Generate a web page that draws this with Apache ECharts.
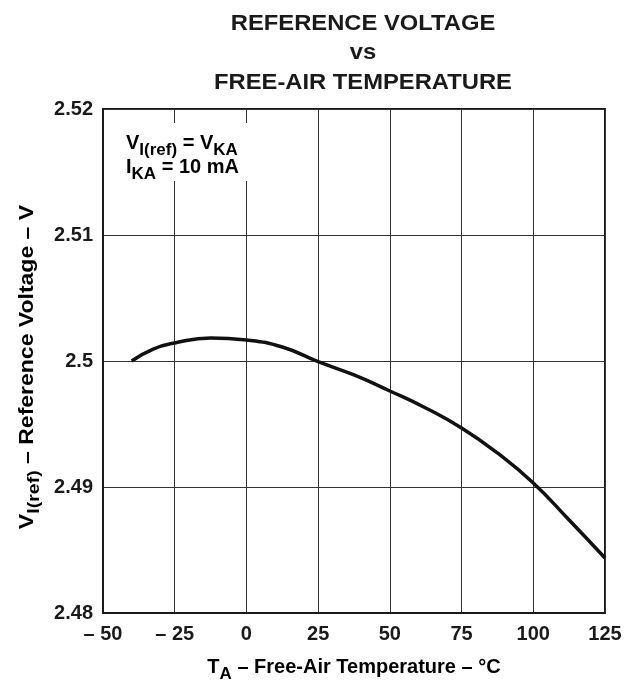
<!DOCTYPE html>
<html><head><meta charset="utf-8">
<script src="https://cdn.jsdelivr.net/npm/echarts@6/dist/echarts.min.js"></script>
<style>html,body{margin:0;padding:0;background:#fff}#c{width:629px;height:680px}</style>
</head><body><div id="c"></div>
<script>
const temperature = [-40, -32.5, -25, -12.5, 0, 12.5, 25, 37.5, 50, 62.5, 75, 87.5, 100, 112.5, 125];
const vref = [2.5000, 2.50095, 2.50143, 2.50183, 2.50167, 2.50111, 2.49995, 2.49889, 2.49762, 2.49627, 2.49468, 2.4927, 2.49032, 2.48738, 2.48437];
const xTicks = [-50, -25, 0, 25, 50, 75, 100, 125];
const yTicks = [2.48, 2.49, 2.50, 2.51, 2.52];

const F = '"Liberation Sans", Arial, sans-serif';
const C = '#1a1a1a';
const chart = echarts.init(document.getElementById('c'));
const m = {fontFamily: F, fontWeight: 'bold', fontSize: 20, color: C};
const s = {fontFamily: F, fontWeight: 'bold', fontSize: 17, color: C, verticalAlign: 'bottom', padding: [0, 0, -6, 0]};
chart.setOption({
  animation: false,
  backgroundColor: '#fff',
  grid: {left: 103, right: 24, top: 109, bottom: 67, show: true, borderColor: C, borderWidth: 2, backgroundColor: 'transparent'},
  xAxis: {
    type: 'value', min: -50, max: 125, interval: 25,
    axisLine: {show: true, onZero: false, lineStyle: {color: C, width: 2}},
    axisTick: {show: false},
    splitLine: {show: true, lineStyle: {color: '#333', width: 1}},
    axisLabel: {fontFamily: F, fontWeight: 'bold', fontSize: 20, color: C, margin: 11,
      formatter: v => xTicks.includes(v) ? (v < 0 ? '– ' + Math.abs(v) : String(v)) : ''}
  },
  yAxis: {
    type: 'value', min: 2.48, max: 2.52, interval: 0.01,
    axisLine: {show: true, onZero: false, lineStyle: {color: C, width: 2}},
    axisTick: {show: false},
    splitLine: {show: true, lineStyle: {color: '#333', width: 1}},
    axisLabel: {fontFamily: F, fontWeight: 'bold', fontSize: 20, color: C, margin: 10,
      formatter: v => { const t = yTicks.find(y => Math.abs(y - v) < 1e-9); return t === undefined ? '' : String(+t.toFixed(2)); }}
  },
  graphic: [
    {type: 'text', x: 363, y: 53, scaleX: 1.08, style: {
      text: 'REFERENCE VOLTAGE\nvs\nFREE-AIR TEMPERATURE', align: 'center', verticalAlign: 'middle',
      fontFamily: F, fontWeight: 'bold', fontSize: 22, lineHeight: 29.5, fill: C}},
    {type: 'text', x: 354, y: 667, style: {
      text: '{m|T}{s|A}{m| – Free-Air Temperature – °C}', align: 'center', verticalAlign: 'middle',
      rich: {m: m, s: s}}},
    {type: 'text', x: 27, y: 367, rotation: Math.PI / 2, scaleX: 1.15, style: {
      text: '{m|V}{s|I(ref)}{m| – Reference Voltage – V}', align: 'center', verticalAlign: 'middle',
      rich: {m: m, s: s}}},
    {type: 'rect', shape: {x: 112, y: 123, width: 150, height: 58}, style: {fill: '#fff'}, z: 10},
    {type: 'text', left: 126, top: 133, z: 11, style: {
      text: '{m|V}{s|I(ref)}{m| = V}{s|KA}', rich: {m: m, s: s}}},
    {type: 'text', left: 126, top: 157, z: 11, style: {
      text: '{m|I}{s|KA}{m| = 10 mA}', rich: {m: m, s: s}}}
  ],
  series: [{
    type: 'line', smooth: true, symbol: 'none',
    data: temperature.map((t, i) => [t, vref[i]]),
    lineStyle: {color: '#111', width: 3.5}
  }]
});
</script></body></html>
